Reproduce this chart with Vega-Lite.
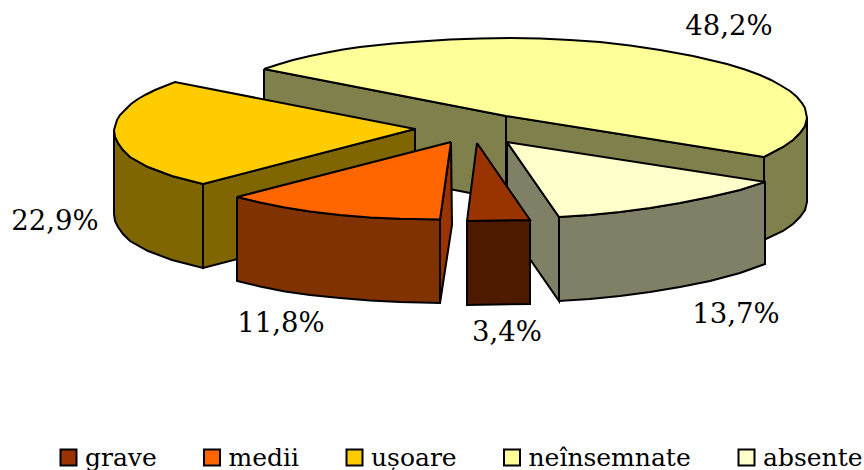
{"$schema":"https://vega.github.io/schema/vega-lite/v6.json","width":864,"height":470,"padding":0,"autosize":{"type":"none"},"background":"white","config":{"view":{"stroke":null}},
"datasets":{"faces":[
{"p":"a1","f":"neînsemnate lateral","o":1,"x":264,"y":69},{"p":"a1","f":"neînsemnate lateral","o":2,"x":506,"y":116},{"p":"a1","f":"neînsemnate lateral","o":3,"x":506,"y":200},{"p":"a1","f":"neînsemnate lateral","o":4,"x":264,"y":153},{"p":"a1","f":"neînsemnate lateral","o":5,"x":264,"y":69},
{"p":"a2","f":"neînsemnate lateral","o":1,"x":506,"y":116},{"p":"a2","f":"neînsemnate lateral","o":2,"x":764,"y":157},{"p":"a2","f":"neînsemnate lateral","o":3,"x":764,"y":240},{"p":"a2","f":"neînsemnate lateral","o":4,"x":506,"y":200},{"p":"a2","f":"neînsemnate lateral","o":5,"x":506,"y":116},
{"p":"a3","f":"neînsemnate lateral","o":1,"x":764,"y":157},{"p":"a3","f":"neînsemnate lateral","o":2,"x":783,"y":147},{"p":"a3","f":"neînsemnate lateral","o":3,"x":793,"y":140},{"p":"a3","f":"neînsemnate lateral","o":4,"x":800,"y":133},{"p":"a3","f":"neînsemnate lateral","o":5,"x":805,"y":126},{"p":"a3","f":"neînsemnate lateral","o":6,"x":807,"y":118},{"p":"a3","f":"neînsemnate lateral","o":7,"x":807,"y":202},{"p":"a3","f":"neînsemnate lateral","o":8,"x":805,"y":210},{"p":"a3","f":"neînsemnate lateral","o":9,"x":800,"y":217},{"p":"a3","f":"neînsemnate lateral","o":10,"x":793,"y":224},{"p":"a3","f":"neînsemnate lateral","o":11,"x":783,"y":231},{"p":"a3","f":"neînsemnate lateral","o":12,"x":764,"y":240},{"p":"a3","f":"neînsemnate lateral","o":13,"x":764,"y":157},
{"p":"a4","f":"neînsemnate","o":1,"x":264,"y":69},{"p":"a4","f":"neînsemnate","o":2,"x":278,"y":64.5},{"p":"a4","f":"neînsemnate","o":3,"x":293,"y":60},{"p":"a4","f":"neînsemnate","o":4,"x":310,"y":56},{"p":"a4","f":"neînsemnate","o":5,"x":327,"y":52.5},{"p":"a4","f":"neînsemnate","o":6,"x":343,"y":49.5},{"p":"a4","f":"neînsemnate","o":7,"x":360,"y":47},{"p":"a4","f":"neînsemnate","o":8,"x":393,"y":43.5},{"p":"a4","f":"neînsemnate","o":9,"x":420,"y":41.5},{"p":"a4","f":"neînsemnate","o":10,"x":450,"y":39.5},{"p":"a4","f":"neînsemnate","o":11,"x":480,"y":38.5},{"p":"a4","f":"neînsemnate","o":12,"x":510,"y":38},{"p":"a4","f":"neînsemnate","o":13,"x":540,"y":38.5},{"p":"a4","f":"neînsemnate","o":14,"x":570,"y":40},{"p":"a4","f":"neînsemnate","o":15,"x":600,"y":42},{"p":"a4","f":"neînsemnate","o":16,"x":630,"y":45.5},{"p":"a4","f":"neînsemnate","o":17,"x":660,"y":50},{"p":"a4","f":"neînsemnate","o":18,"x":693,"y":56},{"p":"a4","f":"neînsemnate","o":19,"x":727,"y":64},{"p":"a4","f":"neînsemnate","o":20,"x":745,"y":69.5},{"p":"a4","f":"neînsemnate","o":21,"x":760,"y":75},{"p":"a4","f":"neînsemnate","o":22,"x":771,"y":80},{"p":"a4","f":"neînsemnate","o":23,"x":780,"y":85},{"p":"a4","f":"neînsemnate","o":24,"x":790,"y":91},{"p":"a4","f":"neînsemnate","o":25,"x":797,"y":97},{"p":"a4","f":"neînsemnate","o":26,"x":802,"y":103},{"p":"a4","f":"neînsemnate","o":27,"x":805,"y":108},{"p":"a4","f":"neînsemnate","o":28,"x":807,"y":118},{"p":"a4","f":"neînsemnate","o":29,"x":805,"y":126},{"p":"a4","f":"neînsemnate","o":30,"x":800,"y":133},{"p":"a4","f":"neînsemnate","o":31,"x":793,"y":140},{"p":"a4","f":"neînsemnate","o":32,"x":783,"y":147},{"p":"a4","f":"neînsemnate","o":33,"x":764,"y":157},{"p":"a4","f":"neînsemnate","o":34,"x":506,"y":116},{"p":"a4","f":"neînsemnate","o":35,"x":264,"y":69},
{"p":"b1","f":"ușoare lateral","o":1,"x":203,"y":184},{"p":"b1","f":"ușoare lateral","o":2,"x":415,"y":129},{"p":"b1","f":"ușoare lateral","o":3,"x":415,"y":213},{"p":"b1","f":"ușoare lateral","o":4,"x":203,"y":268},{"p":"b1","f":"ușoare lateral","o":5,"x":203,"y":184},
{"p":"b2","f":"ușoare lateral","o":1,"x":114,"y":130},{"p":"b2","f":"ușoare lateral","o":2,"x":115,"y":137},{"p":"b2","f":"ușoare lateral","o":3,"x":118,"y":143},{"p":"b2","f":"ușoare lateral","o":4,"x":123,"y":150},{"p":"b2","f":"ușoare lateral","o":5,"x":130,"y":157},{"p":"b2","f":"ușoare lateral","o":6,"x":148,"y":167},{"p":"b2","f":"ușoare lateral","o":7,"x":172,"y":176},{"p":"b2","f":"ușoare lateral","o":8,"x":203,"y":184},{"p":"b2","f":"ușoare lateral","o":9,"x":203,"y":268},{"p":"b2","f":"ușoare lateral","o":10,"x":172,"y":260},{"p":"b2","f":"ușoare lateral","o":11,"x":148,"y":251},{"p":"b2","f":"ușoare lateral","o":12,"x":130,"y":241},{"p":"b2","f":"ușoare lateral","o":13,"x":123,"y":234},{"p":"b2","f":"ușoare lateral","o":14,"x":118,"y":227},{"p":"b2","f":"ușoare lateral","o":15,"x":115,"y":221},{"p":"b2","f":"ușoare lateral","o":16,"x":114,"y":214},{"p":"b2","f":"ușoare lateral","o":17,"x":114,"y":130},
{"p":"b3","f":"ușoare","o":1,"x":415,"y":129},{"p":"b3","f":"ușoare","o":2,"x":175,"y":82},{"p":"b3","f":"ușoare","o":3,"x":165,"y":86},{"p":"b3","f":"ușoare","o":4,"x":155,"y":90},{"p":"b3","f":"ușoare","o":5,"x":146,"y":94.5},{"p":"b3","f":"ușoare","o":6,"x":138,"y":99},{"p":"b3","f":"ușoare","o":7,"x":131,"y":104},{"p":"b3","f":"ușoare","o":8,"x":125,"y":110},{"p":"b3","f":"ușoare","o":9,"x":120,"y":115},{"p":"b3","f":"ușoare","o":10,"x":117,"y":120},{"p":"b3","f":"ușoare","o":11,"x":114,"y":130},{"p":"b3","f":"ușoare","o":12,"x":115,"y":137},{"p":"b3","f":"ușoare","o":13,"x":118,"y":143},{"p":"b3","f":"ușoare","o":14,"x":123,"y":150},{"p":"b3","f":"ușoare","o":15,"x":130,"y":157},{"p":"b3","f":"ușoare","o":16,"x":148,"y":167},{"p":"b3","f":"ușoare","o":17,"x":172,"y":176},{"p":"b3","f":"ușoare","o":18,"x":203,"y":184},{"p":"b3","f":"ușoare","o":19,"x":415,"y":129},
{"p":"c1","f":"medii lateral","o":1,"x":237,"y":197},{"p":"c1","f":"medii lateral","o":2,"x":260,"y":202.5},{"p":"c1","f":"medii lateral","o":3,"x":285,"y":207.5},{"p":"c1","f":"medii lateral","o":4,"x":310,"y":211.5},{"p":"c1","f":"medii lateral","o":5,"x":340,"y":215},{"p":"c1","f":"medii lateral","o":6,"x":370,"y":217.5},{"p":"c1","f":"medii lateral","o":7,"x":400,"y":218.8},{"p":"c1","f":"medii lateral","o":8,"x":440,"y":219.5},{"p":"c1","f":"medii lateral","o":9,"x":440,"y":303},{"p":"c1","f":"medii lateral","o":10,"x":400,"y":302},{"p":"c1","f":"medii lateral","o":11,"x":370,"y":300.5},{"p":"c1","f":"medii lateral","o":12,"x":340,"y":298},{"p":"c1","f":"medii lateral","o":13,"x":310,"y":295},{"p":"c1","f":"medii lateral","o":14,"x":285,"y":291.5},{"p":"c1","f":"medii lateral","o":15,"x":260,"y":286.5},{"p":"c1","f":"medii lateral","o":16,"x":237,"y":281},{"p":"c1","f":"medii lateral","o":17,"x":237,"y":197},
{"p":"c2","f":"medii interior","o":1,"x":451,"y":142},{"p":"c2","f":"medii interior","o":2,"x":452,"y":225},{"p":"c2","f":"medii interior","o":3,"x":440,"y":303},{"p":"c2","f":"medii interior","o":4,"x":440,"y":219.5},{"p":"c2","f":"medii interior","o":5,"x":451,"y":142},
{"p":"c3","f":"medii","o":1,"x":451,"y":142},{"p":"c3","f":"medii","o":2,"x":237,"y":197},{"p":"c3","f":"medii","o":3,"x":260,"y":202.5},{"p":"c3","f":"medii","o":4,"x":285,"y":207.5},{"p":"c3","f":"medii","o":5,"x":310,"y":211.5},{"p":"c3","f":"medii","o":6,"x":340,"y":215},{"p":"c3","f":"medii","o":7,"x":370,"y":217.5},{"p":"c3","f":"medii","o":8,"x":400,"y":218.8},{"p":"c3","f":"medii","o":9,"x":440,"y":219.5},{"p":"c3","f":"medii","o":10,"x":451,"y":142},
{"p":"d1","f":"absente lateral","o":1,"x":507,"y":142},{"p":"d1","f":"absente lateral","o":2,"x":559,"y":217},{"p":"d1","f":"absente lateral","o":3,"x":559,"y":301},{"p":"d1","f":"absente lateral","o":4,"x":507,"y":226},{"p":"d1","f":"absente lateral","o":5,"x":507,"y":142},
{"p":"d2","f":"absente lateral","o":1,"x":559,"y":217},{"p":"d2","f":"absente lateral","o":2,"x":590,"y":215},{"p":"d2","f":"absente lateral","o":3,"x":620,"y":212},{"p":"d2","f":"absente lateral","o":4,"x":650,"y":208},{"p":"d2","f":"absente lateral","o":5,"x":680,"y":203},{"p":"d2","f":"absente lateral","o":6,"x":710,"y":197},{"p":"d2","f":"absente lateral","o":7,"x":740,"y":190},{"p":"d2","f":"absente lateral","o":8,"x":765,"y":182},{"p":"d2","f":"absente lateral","o":9,"x":765,"y":264},{"p":"d2","f":"absente lateral","o":10,"x":740,"y":273},{"p":"d2","f":"absente lateral","o":11,"x":710,"y":281},{"p":"d2","f":"absente lateral","o":12,"x":680,"y":287},{"p":"d2","f":"absente lateral","o":13,"x":650,"y":292},{"p":"d2","f":"absente lateral","o":14,"x":620,"y":296},{"p":"d2","f":"absente lateral","o":15,"x":590,"y":299},{"p":"d2","f":"absente lateral","o":16,"x":559,"y":301},{"p":"d2","f":"absente lateral","o":17,"x":559,"y":217},
{"p":"d3","f":"absente","o":1,"x":507,"y":142},{"p":"d3","f":"absente","o":2,"x":765,"y":182},{"p":"d3","f":"absente","o":3,"x":740,"y":190},{"p":"d3","f":"absente","o":4,"x":710,"y":197},{"p":"d3","f":"absente","o":5,"x":680,"y":203},{"p":"d3","f":"absente","o":6,"x":650,"y":208},{"p":"d3","f":"absente","o":7,"x":620,"y":212},{"p":"d3","f":"absente","o":8,"x":590,"y":215},{"p":"d3","f":"absente","o":9,"x":559,"y":217},{"p":"d3","f":"absente","o":10,"x":507,"y":142},
{"p":"e1","f":"grave lateral","o":1,"x":467,"y":221},{"p":"e1","f":"grave lateral","o":2,"x":530,"y":220},{"p":"e1","f":"grave lateral","o":3,"x":530,"y":304},{"p":"e1","f":"grave lateral","o":4,"x":467,"y":305},{"p":"e1","f":"grave lateral","o":5,"x":467,"y":221},
{"p":"e2","f":"grave","o":1,"x":477,"y":143},{"p":"e2","f":"grave","o":2,"x":530,"y":220},{"p":"e2","f":"grave","o":3,"x":467,"y":221},{"p":"e2","f":"grave","o":4,"x":477,"y":143}
],"labels":[{"t":"48,2%","x":729,"y":27},{"t":"22,9%","x":55,"y":222},{"t":"11,8%","x":281,"y":324},{"t":"3,4%","x":507,"y":333},{"t":"13,7%","x":736,"y":315}]},
"layer":[
{"data":{"name":"faces"},"mark":{"type":"line","stroke":"#000000","strokeWidth":2,"strokeJoin":"miter","interpolate":"linear"},
"encoding":{
"x":{"field":"x","type":"quantitative","scale":{"domain":[0,864],"nice":false,"zero":false},"axis":null},
"y":{"field":"y","type":"quantitative","scale":{"domain":[470,0],"nice":false,"zero":false},"axis":null},
"order":{"field":"o","type":"quantitative"},
"detail":{"field":"p"},
"fill":{"field":"f","type":"nominal","scale":{"domain":["grave","medii","ușoare","neînsemnate","absente","grave lateral","medii lateral","medii interior","ușoare lateral","neînsemnate lateral","absente lateral"],"range":["#993300","#FF6600","#FFCC00","#FFFF99","#FFFFCC","#4D1A00","#803300","#993300","#806600","#80804D","#808066"]},
"legend":{"title":null,"values":["grave","medii","ușoare","neînsemnate","absente"],"orient":"none","legendX":56,"legendY":445,"direction":"horizontal","columns":5,"gridAlign":"none","columnPadding":42.5,"symbolType":"square","symbolSize":256,"symbolStrokeColor":"#000000","symbolStrokeWidth":2,"labelFont":"DejaVu Serif","labelFontSize":25,"labelColor":"#000000","labelOffset":4,"labelLimit":300}}}},
{"data":{"name":"labels"},"mark":{"type":"text","font":"DejaVu Serif","fontSize":27.5,"color":"#000000","align":"center","baseline":"middle"},
"encoding":{"x":{"field":"x","type":"quantitative"},"y":{"field":"y","type":"quantitative"},"text":{"field":"t"}}}
]}
